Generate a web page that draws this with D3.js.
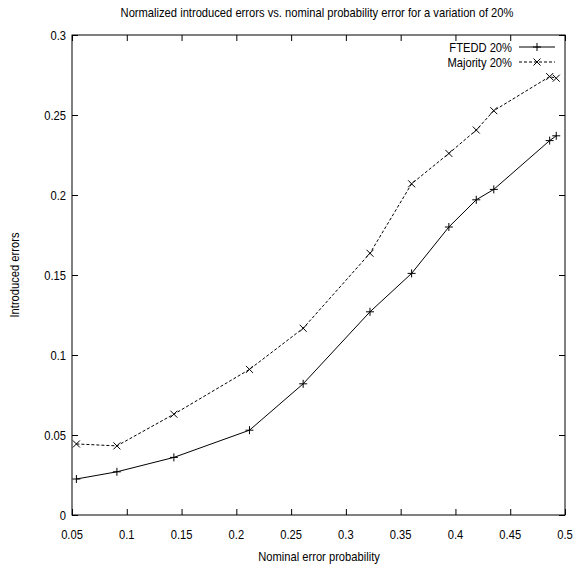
<!DOCTYPE html>
<html>
<head>
<meta charset="utf-8">
<script src="https://cdn.jsdelivr.net/npm/d3@7"></script>
<style>
  body { margin: 0; background: #fff; }
  svg { font-family: "Liberation Sans", Arial, sans-serif; }
</style>
</head>
<body>
<svg id="chart" width="585" height="568"></svg>
<script>
var xTicks = [0.05, 0.1, 0.15, 0.2, 0.25, 0.3, 0.35, 0.4, 0.45, 0.5];
var yTicks = [0, 0.05, 0.1, 0.15, 0.2, 0.25, 0.3];

var nominal = [0.054, 0.091, 0.143, 0.212, 0.261, 0.322, 0.36, 0.394, 0.419, 0.435, 0.486, 0.492];
var ftedd = [0.0225, 0.027, 0.036, 0.053, 0.082, 0.127, 0.151, 0.18, 0.197, 0.2035, 0.234, 0.237];
var majority = [0.0444, 0.0432, 0.063, 0.091, 0.1167, 0.1636, 0.207, 0.226, 0.2406, 0.2527, 0.274, 0.273];

var svg = d3.select('#chart'),
    plotLeft = 72,
    plotRight = 565,
    plotTop = 35,
    plotBottom = 515,
    tickLen = 6;

var x = d3.scaleLinear().domain([0.05, 0.5]).range([plotLeft, plotRight]);
var y = d3.scaleLinear().domain([0, 0.3]).range([plotBottom, plotTop]);

function fmt(d) { return String(+d.toFixed(2)); }

// condensed text, like the narrow helvetica of the original
function narrowText(px, py, str, size, anchor, rot) {
    var t = svg.append('text')
        .attr('transform', 'translate(' + px + ',' + py + ')' + (rot ? ' rotate(' + rot + ')' : '') + ' scale(0.86,1)')
        .attr('text-anchor', anchor)
        .attr('font-size', size)
        .text(str);
    return t;
}

// axes with inward ticks, mirrored on top / right
function noDomain(g) { g.select('.domain').remove(); }
svg.append('g')
    .attr('transform', 'translate(0,' + plotBottom + ')')
    .call(d3.axisTop(x).tickValues(xTicks).tickSize(tickLen).tickFormat(''))
    .call(noDomain);
svg.append('g')
    .attr('transform', 'translate(0,' + plotTop + ')')
    .call(d3.axisBottom(x).tickValues(xTicks).tickSize(tickLen).tickFormat(''))
    .call(noDomain);
svg.append('g')
    .attr('transform', 'translate(' + plotLeft + ',0)')
    .call(d3.axisRight(y).tickValues(yTicks).tickSize(tickLen).tickFormat(''))
    .call(noDomain);
svg.append('g')
    .attr('transform', 'translate(' + plotRight + ',0)')
    .call(d3.axisLeft(y).tickValues(yTicks).tickSize(tickLen).tickFormat(''))
    .call(noDomain);

svg.selectAll('.tick line').attr('stroke', '#000');

svg.append('rect')
    .attr('x', plotLeft).attr('y', plotTop)
    .attr('width', plotRight - plotLeft).attr('height', plotBottom - plotTop)
    .attr('fill', 'none').attr('stroke', '#000').attr('stroke-width', 1);

// tick labels
xTicks.forEach(function(d) {
    narrowText(x(d), plotBottom + 24, fmt(d), 13, 'middle');
});
yTicks.forEach(function(d) {
    narrowText(plotLeft - 6, y(d) + 5, fmt(d), 13, 'end');
});

// titles
narrowText(317, 17, 'Normalized introduced errors vs. nominal probability error for a variation of 20%', 13, 'middle');
narrowText(319, 561, 'Nominal error probability', 13, 'middle');
narrowText(19, 275, 'Introduced errors', 13, 'middle', -90);

// series
var line = d3.line()
    .x(function(d) { return x(d[0]); })
    .y(function(d) { return y(d[1]); });

var fteddPts = d3.zip(nominal, ftedd),
    majPts = d3.zip(nominal, majority);

function plus(g, px, py) {
    var s = 4;
    g.append('path')
        .attr('d', 'M' + (px - s) + ',' + py + 'H' + (px + s) + 'M' + px + ',' + (py - s) + 'V' + (py + s))
        .attr('stroke', '#000').attr('fill', 'none');
}
function cross(g, px, py) {
    var s = 3.5;
    g.append('path')
        .attr('d', 'M' + (px - s) + ',' + (py - s) + 'L' + (px + s) + ',' + (py + s) +
              'M' + (px - s) + ',' + (py + s) + 'L' + (px + s) + ',' + (py - s))
        .attr('stroke', '#000').attr('fill', 'none');
}

var gF = svg.append('g');
gF.append('path').datum(fteddPts).attr('d', line)
    .attr('fill', 'none').attr('stroke', '#000').attr('stroke-width', 1);
fteddPts.forEach(function(d) { plus(gF, x(d[0]), y(d[1])); });

var gM = svg.append('g');
gM.append('path').datum(majPts).attr('d', line)
    .attr('fill', 'none').attr('stroke', '#000').attr('stroke-width', 1)
    .attr('stroke-dasharray', '3,2');
majPts.forEach(function(d) { cross(gM, x(d[0]), y(d[1])); });

// legend
var lg = svg.append('g');
narrowText(512, 52, 'FTEDD 20%', 13, 'end');
lg.append('line').attr('x1', 519).attr('x2', 555).attr('y1', 47).attr('y2', 47)
    .attr('stroke', '#000');
plus(lg, 537, 47);
narrowText(512, 67, 'Majority 20%', 13, 'end');
lg.append('line').attr('x1', 519).attr('x2', 555).attr('y1', 62).attr('y2', 62)
    .attr('stroke', '#000').attr('stroke-dasharray', '3,2');
cross(lg, 537, 62);
</script>
</body>
</html>
